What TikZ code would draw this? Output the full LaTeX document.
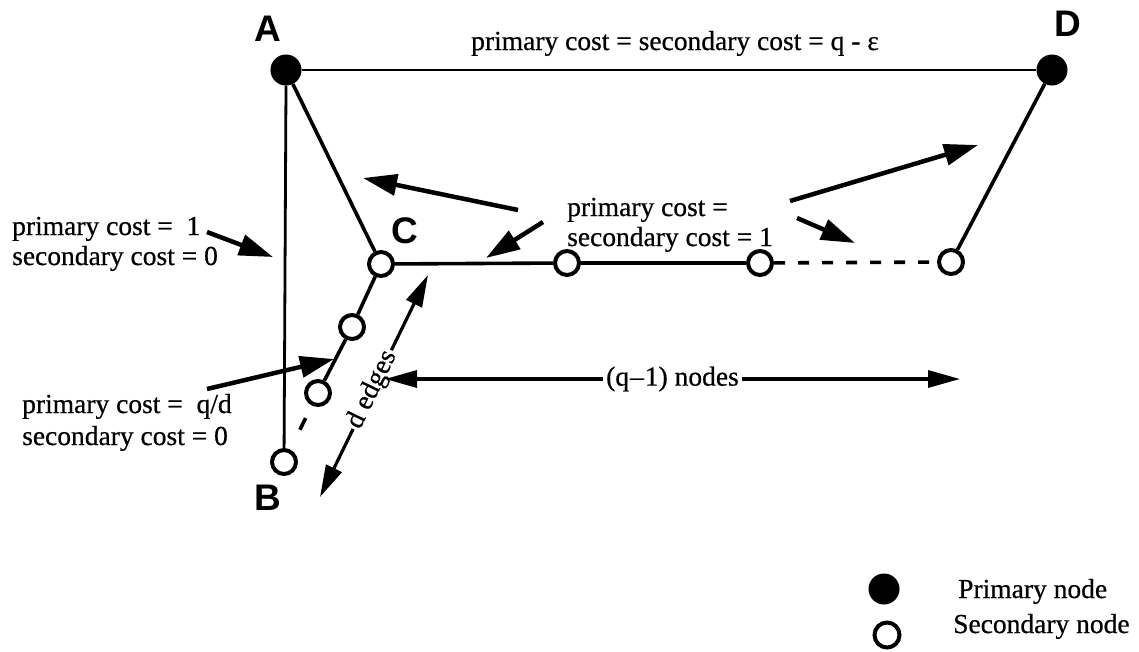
\documentclass[tikz,border=0pt]{standalone}
\usepackage{fontspec}
\setmainfont[FakeBold=0.6]{Liberation Serif}
\newfontfamily\labfont{Liberation Sans}
\usetikzlibrary{arrows.meta}
\begin{document}
\begin{tikzpicture}[x=1pt,y=-1pt,
  prim/.style={circle,fill=black,minimum size=31pt,inner sep=0pt},
  sec/.style={circle,draw=black,line width=4pt,fill=white,minimum size=24pt,inner sep=0pt},
  edge/.style={line width=3.6pt},
  thinedge/.style={line width=2.8pt},
  dashedge/.style={line width=3.6pt,dash pattern=on 11pt off 13pt},
  lab/.style={font=\labfont\bfseries\fontsize{37}{37}\selectfont,inner sep=0pt},
  txt/.style={font=\fontsize{27.5}{31}\selectfont,inner sep=0pt},
  arr/.style={line width=4.5pt,-{Triangle[length=34pt,width=21pt]}},
  darr/.style={line width=3.2pt,{Triangle[length=32pt,width=17pt]}-{Triangle[length=32pt,width=17pt]}},
]
\useasboundingbox (0,0) rectangle (1139,651);
% nodes
\node[prim] (A) at (286,70) {};
\node[prim] (D) at (1052,70) {};
\node[sec] (C) at (381,264) {};
\node[sec] (c2) at (352,327) {};
\node[sec] (c3) at (318,393) {};
\node[sec] (B) at (284,462) {};
\node[sec] (h1) at (567,263) {};
\node[sec] (h2) at (760,263) {};
\node[sec] (h3) at (951,262) {};
% edges
\draw[thinedge] (A) -- (D);
\draw[thinedge] (A.south) -- (B);
\draw[edge] (A) -- (C);
\draw[edge] (D) -- (h3);
\draw[edge] (C) -- (c2);
\draw[edge] (c2) -- (c3);
\draw[edge,dash pattern=on 0pt off 14pt on 13pt off 200pt] (c3) -- (B);
\draw[edge] (C) -- (h1);
\draw[edge] (h1) -- (h2);
\draw[dashedge] (h2) -- (h3);
% labels
\node[lab] (Al) at (268,29) {A};
\node[lab] (Bl) at (268,498) {B};
\node[lab] (Cl) at (405,231) {C};
\node[lab] (Dl) at (1068,24) {D};
% texts
\node[txt,anchor=base] (top) at (675,50) {primary cost = secondary cost = q - ε};
\node[txt,anchor=base west] (p1) at (12,235) {primary cost = \ 1};
\node[txt,anchor=base west] (s1) at (12,265) {secondary cost = 0};
\node[txt,anchor=base west] (p2) at (22,413) {primary cost = \ q/d};
\node[txt,anchor=base west] (s2) at (22,445) {secondary cost = 0};
\node[txt,anchor=base west] (pm) at (567,216) {primary cost =};
\node[txt,anchor=base west] (sm) at (567,246) {secondary cost = 1};
% arrows
\coordinate (a1s) at (518,210); \coordinate (a1e) at (363,178);
\coordinate (a2s) at (543,222); \coordinate (a2e) at (486,258);
\coordinate (a3s) at (790,201); \coordinate (a3e) at (978,145);
\coordinate (a4s) at (797,218); \coordinate (a4e) at (855,243);
\coordinate (a5s) at (207,232); \coordinate (a5e) at (273,257);
\coordinate (a6s) at (207,389); \coordinate (a6e) at (334,359);
\draw[arr] (a1s) -- (a1e);
\draw[arr] (a2s) -- (a2e);
\draw[arr] (a3s) -- (a3e);
\draw[arr] (a4s) -- (a4e);
\draw[arr] (a5s) -- (a5e);
\draw[arr] (a6s) -- (a6e);
% d edges
\coordinate (d1) at (320,497); \coordinate (d2) at (428,275);
\draw[darr] (d1) -- node[txt,fill=white,sloped,inner sep=2pt,xshift=-4pt] (dl) {d edges} (d2);
% (q-1) nodes
\coordinate (n1) at (385,379); \coordinate (n2) at (960,379);
\draw[darr] (n1) -- node[txt,fill=white,inner sep=3pt] (nl) {(q\kern1pt–\kern1pt1) nodes} (n2);
% legend
\node[prim,minimum size=31pt] (lp) at (884,589) {};
\node[sec,minimum size=25pt] (ls) at (887,635) {};
\node[txt,anchor=base west] (lpt) at (958,598) {Primary node};
\node[txt,anchor=base west] (lst) at (953,633) {Secondary node};
\end{tikzpicture}
\end{document}
